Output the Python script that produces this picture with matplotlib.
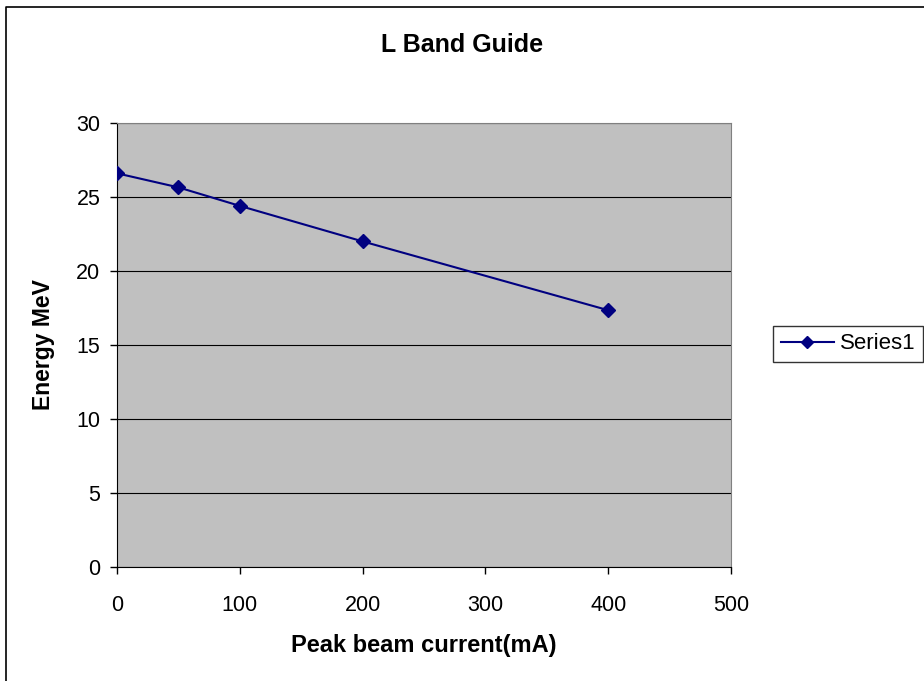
import matplotlib
matplotlib.use("Agg")
import matplotlib.pyplot as plt
from matplotlib.lines import Line2D

plt.rcParams['font.family'] = ['Liberation Sans', 'DejaVu Sans']

# data
current_ma = [0, 50, 100, 200, 400]
energy_mev = [26.6, 25.65, 24.4, 22.0, 17.35]
x_ticks = [0, 100, 200, 300, 400, 500]
y_ticks = [0, 5, 10, 15, 20, 25, 30]

navy = '#000080'

fig = plt.figure(figsize=(9.24, 6.81), dpi=100)
ax = fig.add_axes([0.1266, 0.1674, 0.6645, 0.652])
ax.set_facecolor('#C0C0C0')

line, = ax.plot(current_ma, energy_mev, color=navy, lw=1.5, marker='D',
                markersize=7.5, markerfacecolor=navy, markeredgecolor=navy,
                label='Series1', zorder=3)

ax.set_xlim(0, 500)
ax.set_ylim(0, 30)
ax.set_xticks(x_ticks)
ax.set_yticks(y_ticks)
ax.yaxis.grid(True, color='black', lw=0.8)
ax.set_axisbelow(True)
ax.tick_params(direction='out', length=5, width=1, labelsize=15.5)
ax.tick_params(axis='y', pad=7)
ax.tick_params(axis='x', pad=15)

for side in ['top', 'right']:
    ax.spines[side].set_color('#808080')
for side in ['left', 'bottom']:
    ax.spines[side].set_color('black')

ax.set_xlabel('Peak beam current(mA)', fontsize=17, fontweight='bold', va='center')
ax.set_ylabel('Energy MeV', fontsize=16.5, fontweight='bold', va='center')
ax.xaxis.set_label_coords(0.5, -0.176)
ax.yaxis.set_label_coords(-0.119, 0.5)
fig.text(0.5, 0.934, 'L Band Guide', ha='center', va='center',
         fontsize=18, fontweight='bold')

leg = fig.legend(handles=[line], loc='center left', bbox_to_anchor=(0.8366, 0.4949),
                 fontsize=16, frameon=True, fancybox=False, handlelength=2.4,
                 borderpad=0.35, handletextpad=0.25, borderaxespad=0,
                 markerscale=0.8)
leg.get_frame().set_edgecolor('black')
leg.get_frame().set_linewidth(1)

# outer chart border (only left and top edges are inside the image)
fig.lines.append(Line2D([0.0065, 0.0065, 1.0], [0.0, 0.990, 0.990],
                        transform=fig.transFigure, color='black', lw=1.2))

fig.savefig('out.png', dpi=100)
